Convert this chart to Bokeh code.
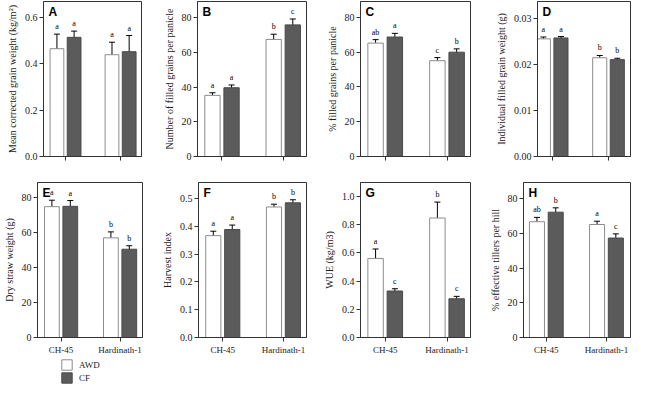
from bokeh.plotting import figure
from bokeh.models import (Range1d, FixedTicker, NumeralTickFormatter, ColumnDataSource,
                          Whisker, TeeHead, Legend, LegendItem, Label)
from bokeh.layouts import column, row
from bokeh.embed import file_html
from bokeh.resources import INLINE
from bokeh.core.properties import value

cultivars = ["CH-45", "Hardinath-1"]
treatments = ["AWD", "CF"]
panel_letters = ["A", "B", "C", "D", "E", "F", "G", "H"]
y_labels = ["Mean corrected grain weight (kg/m\u00b2)", "Number of filled grains per panicle",
            "% filled grains per panicle", "Individual filled grain weight (g)",
            "Dry straw weight (g)", "Harvest index", "WUE (kg/m3)", "% effective tillers per hill"]

grain_awd = [0.466, 0.440]; grain_awd_se = [0.063, 0.054]; grain_awd_sig = ["a", "a"]
grain_cf = [0.515, 0.453]; grain_cf_se = [0.027, 0.070]; grain_cf_sig = ["a", "a"]

filled_awd = [35.3, 67.6]; filled_awd_se = [1.5, 3.0]; filled_awd_sig = ["a", "b"]
filled_cf = [39.7, 76.0]; filled_cf_se = [1.6, 3.4]; filled_cf_sig = ["a", "c"]

pct_awd = [65.1, 55.0]; pct_awd_se = [2.0, 1.8]; pct_awd_sig = ["ab", "c"]
pct_cf = [68.6, 59.9]; pct_cf_se = [2.1, 1.9]; pct_cf_sig = ["a", "b"]

igw_awd = [0.0255, 0.0214]; igw_awd_se = [0.0004, 0.0005]; igw_awd_sig = ["a", "b"]
igw_cf = [0.0257, 0.0210]; igw_cf_se = [0.0003, 0.0003]; igw_cf_sig = ["a", "b"]

straw_awd = [74.7, 56.9]; straw_awd_se = [3.7, 3.4]; straw_awd_sig = ["a", "b"]
straw_cf = [74.9, 50.4]; straw_cf_se = [3.3, 2.0]; straw_cf_sig = ["a", "b"]

hi_awd = [0.366, 0.469]; hi_awd_se = [0.016, 0.010]; hi_awd_sig = ["a", "b"]
hi_cf = [0.388, 0.484]; hi_cf_se = [0.016, 0.011]; hi_cf_sig = ["a", "b"]

wue_awd = [0.561, 0.848]; wue_awd_se = [0.067, 0.113]; wue_awd_sig = ["a", "b"]
wue_cf = [0.330, 0.275]; wue_cf_se = [0.016, 0.017]; wue_cf_sig = ["c", "c"]

till_awd = [66.7, 65.1]; till_awd_se = [2.5, 1.9]; till_awd_sig = ["ab", "a"]
till_cf = [72.2, 57.3]; till_cf_se = [2.5, 2.4]; till_cf_sig = ["b", "c"]

y_max = [0.67, 89.5, 89.0, 0.0336, 88.5, 0.557, 1.10, 89.3]
y_ticks = [[0, 0.2, 0.4, 0.6], [0, 20, 40, 60, 80], [0, 20, 40, 60, 80], [0, 0.01, 0.02, 0.03],
           [0, 20, 40, 60, 80], [0, 0.1, 0.2, 0.3, 0.4, 0.5], [0, 0.2, 0.4, 0.6, 0.8, 1.0],
           [0, 20, 40, 60, 80]]
y_formats = ["0.0", "0", "0", "0.00", "0", "0.0", "0.0", "0"]

series = [
    (grain_awd, grain_awd_se, grain_awd_sig, grain_cf, grain_cf_se, grain_cf_sig),
    (filled_awd, filled_awd_se, filled_awd_sig, filled_cf, filled_cf_se, filled_cf_sig),
    (pct_awd, pct_awd_se, pct_awd_sig, pct_cf, pct_cf_se, pct_cf_sig),
    (igw_awd, igw_awd_se, igw_awd_sig, igw_cf, igw_cf_se, igw_cf_sig),
    (straw_awd, straw_awd_se, straw_awd_sig, straw_cf, straw_cf_se, straw_cf_sig),
    (hi_awd, hi_awd_se, hi_awd_sig, hi_cf, hi_cf_se, hi_cf_sig),
    (wue_awd, wue_awd_se, wue_awd_sig, wue_cf, wue_cf_se, wue_cf_sig),
    (till_awd, till_awd_se, till_awd_sig, till_cf, till_cf_se, till_cf_sig),
]

# layout: (border_left, frame_width, border_right, x_start, x_end)
geoms = [(43, 98, 8, 0.6, 2.38), (48, 109, 8, 0.6, 2.38), (46, 110, 8, 0.6, 2.38), (59, 93, 2, 0.74, 2.39),
         (33, 109, 8, 0.6, 2.38), (48, 108, 8, 0.6, 2.38), (46, 110, 8, 0.6, 2.38), (45, 107, 2, 0.62, 2.40)]

SERIF = "Liberation Serif"
FRAME = "#333333"
AWD_FILL, AWD_LINE = "#ffffff", "#8c8c8c"
CF_FILL, CF_LINE = "#5b5b5b", "#4a4a4a"
OFF, BW = 0.156, 0.25
FRAME_H = 155


def make_panel(i):
    awd, awd_se, awd_sig, cf, cf_se, cf_sig = series[i]
    left, fw, right, x0, x1 = geoms[i]
    bottom_row = i >= 4
    top_b = 6 if bottom_row else 1
    p = figure(width=left + fw + right, height=top_b + FRAME_H + 20,
               x_range=Range1d(x0, x1), y_range=Range1d(0, y_max[i]),
               output_backend="svg", toolbar_location=None,
               min_border_left=left, min_border_right=right,
               min_border_top=top_b, min_border_bottom=20)
    p.xgrid.visible = False
    p.ygrid.visible = False
    p.outline_line_color = FRAME
    p.outline_line_width = 1
    p.background_fill_color = "white"

    pos = [k + 1 for k in range(len(cultivars))]
    for vals, se, sig, off, fc, lc in [(awd, awd_se, awd_sig, -OFF, AWD_FILL, AWD_LINE),
                                       (cf, cf_se, cf_sig, OFF, CF_FILL, CF_LINE)]:
        src = ColumnDataSource(dict(
            x=[q + off for q in pos], top=vals,
            upper=[v + e for v, e in zip(vals, se)],
            lower=[v - e for v, e in zip(vals, se)], sig=sig))
        p.vbar(x="x", top="top", bottom=0, width=BW, source=src,
               fill_color=fc, line_color=lc, line_width=1)
        p.add_layout(Whisker(source=src, base="x", upper="upper", lower="lower",
                             line_color="black", line_width=1,
                             upper_head=TeeHead(size=6, line_color="black", line_width=1),
                             lower_head=TeeHead(size=6, line_color="black", line_width=1)))
        p.text(x="x", y="upper", text="sig", source=src, text_align="center",
               text_baseline="bottom", y_offset=-3, text_font=value(SERIF),
               text_font_size="8px", text_color="black")

    p.add_layout(Label(x=x0, y=y_max[i], x_offset=5, y_offset=-3, text=panel_letters[i],
                       text_baseline="top", text_font="Liberation Sans",
                       text_font_style="bold", text_font_size="12px", text_color="black"))

    ya = p.yaxis[0]
    ya.ticker = FixedTicker(ticks=y_ticks[i])
    ya.formatter = NumeralTickFormatter(format=y_formats[i])
    ya.axis_label = y_labels[i]
    ya.axis_label_text_font = SERIF
    ya.axis_label_text_font_style = "normal"
    ya.axis_label_text_font_size = "10px"
    ya.axis_label_standoff = 4
    ya.major_label_text_font = SERIF
    ya.major_label_text_font_size = "10px"
    ya.major_label_standoff = 2

    xa = p.xaxis[0]
    xa.ticker = FixedTicker(ticks=pos)
    if bottom_row:
        xa.major_label_overrides = {q: c for q, c in zip(pos, cultivars)}
    else:
        xa.major_label_overrides = {q: "" for q in pos}
    xa.major_label_text_font = SERIF
    xa.major_label_text_font_size = "9px"
    xa.major_label_standoff = 3

    for ax in (xa, ya):
        ax.axis_line_color = FRAME
        ax.major_tick_line_color = FRAME
        ax.major_tick_in = 0
        ax.major_tick_out = 4
        ax.minor_tick_line_color = None
        ax.major_label_text_color = "#222222"
        ax.axis_label_text_color = "#222222"
    return p


panels = [make_panel(i) for i in range(8)]

leg = figure(width=160, height=27, output_backend="svg", toolbar_location=None,
             x_range=Range1d(0, 1), y_range=Range1d(0, 1), min_border=0)
leg.axis.visible = False
leg.xgrid.visible = False
leg.ygrid.visible = False
leg.outline_line_color = None
# swatch renderers kept outside the visible range; only their legend glyphs show
r_awd = leg.vbar(x=[5], top=[1], width=0.1, fill_color=AWD_FILL, line_color=AWD_LINE)
r_cf = leg.vbar(x=[5], top=[1], width=0.1, fill_color=CF_FILL, line_color=CF_LINE)
legend = Legend(items=[LegendItem(label=treatments[0], renderers=[r_awd]),
                       LegendItem(label=treatments[1], renderers=[r_cf])],
                location=(60, 0), orientation="vertical", margin=0, padding=0, spacing=0,
                glyph_width=13, glyph_height=13, label_height=13, label_standoff=6,
                label_text_font=SERIF, label_text_font_size="9px", label_text_color="#222222",
                border_line_color=None, background_fill_alpha=0)
leg.add_layout(legend)

layout = column(row(*panels[:4]), row(*panels[4:]), leg)
open("out.html", "w").write(file_html(layout, INLINE))
